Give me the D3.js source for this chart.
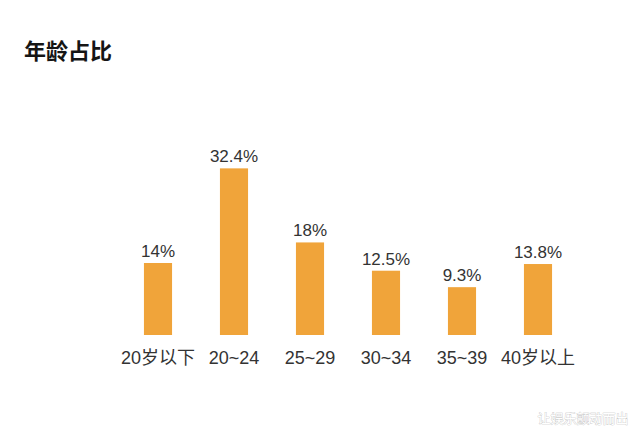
<!DOCTYPE html>
<html><head><meta charset="utf-8">
<script src="https://cdn.jsdelivr.net/npm/d3@7"></script>
<style>body{margin:0;background:#fff;}svg{display:block;}</style>
</head><body>
<script>
const categories = ["20岁以下","20~24","25~29","30~34","35~39","40岁以上"];
const values = [14, 32.4, 18, 12.5, 9.3, 13.8];
const valueLabels = ["14%","32.4%","18%","12.5%","9.3%","13.8%"];
const title = "年龄占比";
const watermark = "让娱乐颤动而出";

const W = 640, H = 438;
const svg = d3.select("body").append("svg").attr("width", W).attr("height", H);
const cjk = "'Noto Sans CJK SC','Noto Sans',sans-serif";
const mixed = "'Liberation Sans','Noto Sans CJK SC',sans-serif";

const x = d3.scaleBand().domain(categories).range([120, 576]).paddingInner(0.63).paddingOuter(0.315);
const y = d3.scaleLinear().domain([0, 14]).range([335, 263]);

svg.append("text").attr("x", 24).attr("y", 58.5).attr("font-family", cjk)
  .attr("font-size", 22).attr("font-weight", "bold").attr("fill", "#151515").text(title);

svg.selectAll("rect.bar").data(values).join("rect").attr("class","bar")
  .attr("x", (d,i) => x(categories[i])).attr("width", x.bandwidth())
  .attr("y", d => y(d)).attr("height", d => y(0) - y(d)).attr("fill", "#F0A43A");

svg.selectAll("text.val").data(values).join("text").attr("class","val")
  .attr("x", (d,i) => x(categories[i]) + x.bandwidth()/2).attr("y", d => y(d) - 6)
  .attr("text-anchor","middle").attr("font-family", mixed).attr("font-size", 17).attr("fill","#333")
  .text((d,i) => valueLabels[i]);

const xAxis = svg.append("g").attr("transform", "translate(0,335)")
  .call(d3.axisBottom(x).tickSize(0).tickPadding(0));
xAxis.select(".domain").remove();
xAxis.selectAll("text").attr("font-family", mixed).attr("font-size", 18).attr("fill","#333")
  .attr("dy", null).attr("y", 29);

svg.append("text").attr("x", 583).attr("y", 423).attr("text-anchor","middle")
  .attr("font-family", cjk).attr("font-size", 13).attr("fill","#fff")
  .attr("stroke","#bbb").attr("stroke-width",0.6).attr("paint-order","stroke").text(watermark);
</script>
</body></html>
